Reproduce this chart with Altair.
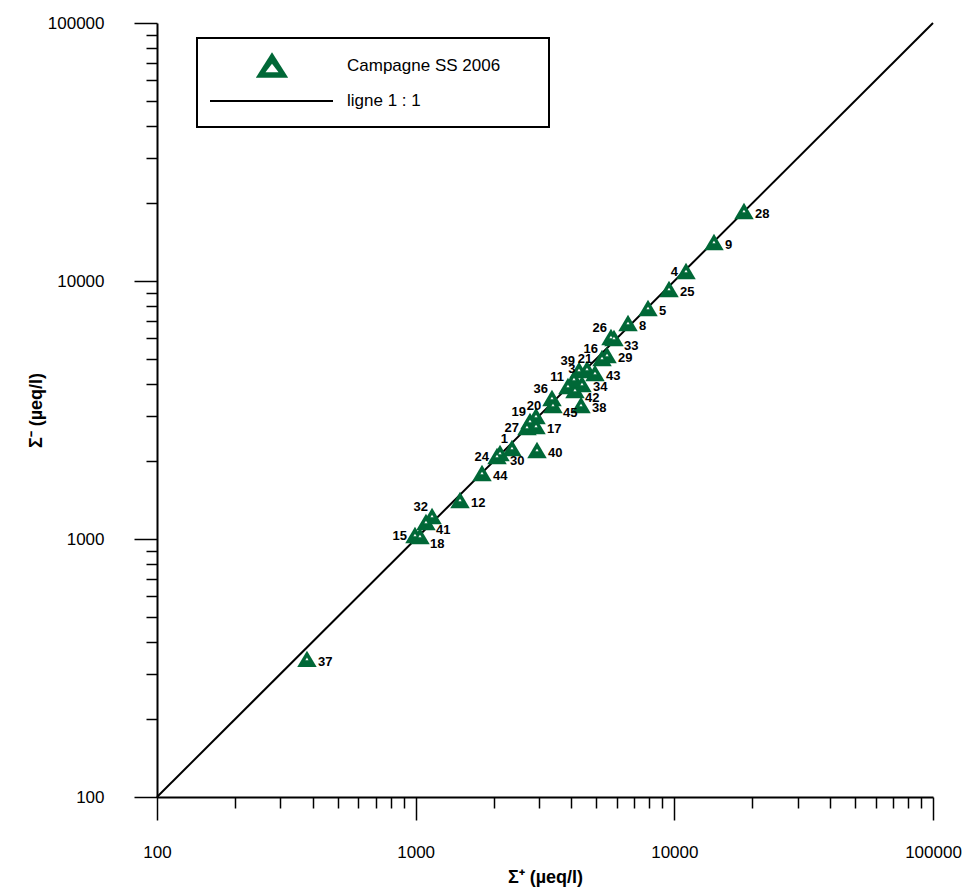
import altair as alt
import pandas as pd

# Sample identifiers and ionic balance sums (µeq/l)
sample_ids = ["37", "15", "18", "32", "41", "12", "44", "24", "30", "1",
              "40", "27", "17", "19", "20", "45", "36", "38", "42", "11",
              "34", "3", "39", "21", "43", "16", "29", "26", "33", "8",
              "5", "25", "4", "9", "28"]
sum_cations = [380, 994, 1039, 1157, 1096, 1484, 1805, 2063, 2119, 2357,
               2945, 2694, 2919, 2767, 2919, 3395, 3365, 4358, 4130, 3880,
               4395, 4093, 4280, 4596, 4935, 5253, 5492, 5690, 5844, 6621,
               7911, 9537, 11096, 14233, 18590]
sum_anions = [343, 1036, 1027, 1228, 1164, 1416, 1802, 2097, 2154, 2253,
              2213, 2718, 2741, 2866, 2998, 3307, 3519, 3307, 3780, 3918,
              3988, 4170, 4519, 4560, 4399, 5030, 5166, 6066, 6013, 6874,
              7857, 9312, 10934, 14165, 18675]

# 1:1 reference line end points
line_x = [100, 100000]
line_y = [100, 100000]

# where each sample label sits around its marker
label_side = {
    "r": ["37", "12", "44", "40", "17", "34", "38", "43", "29", "8", "5", "25", "9", "28"],
    "rb": ["18", "41", "30", "33", "45", "42"],
    "l": ["15", "24", "27", "4"],
    "ul": ["32", "1", "19", "11", "36", "26", "16", "39"],
    "u": ["3", "20", "21"],
}
side_style = {
    "r": dict(align="left", dx=11, dy=3),
    "rb": dict(align="left", dx=10, dy=8),
    "l": dict(align="right", dx=-8, dy=1),
    "ul": dict(align="right", dx=-4, dy=-9),
    "u": dict(align="center", dx=-2, dy=-10),
}

GREEN = "#006837"
FONT = "Liberation Sans"

side_of = {sid: s for s, ids in label_side.items() for sid in ids}
df = pd.DataFrame({"id": sample_ids, "cat": sum_cations, "an": sum_anions})
df["side"] = df["id"].map(side_of)
line_df = pd.DataFrame({"x": line_x, "y": line_y})

tick_vals = [m * 10 ** e for e in range(2, 5) for m in range(1, 10)] + [100000]
is_major = "abs(log(datum.value)/LN10 - round(log(datum.value)/LN10)) < 1e-6"
label_expr = f"{is_major} ? format(datum.value, 'd') : ''"


def make_axis(title, title_pad, label_pad, **kw):
    return alt.Axis(
        values=tick_vals, labelExpr=label_expr, grid=False,
        tickSize={"condition": {"test": is_major, "value": 23}, "value": 11},
        tickWidth=1.5, tickColor="black", domainColor="black", domainWidth=2,
        labelFont=FONT, labelFontSize=17, labelColor="black",
        labelPadding=label_pad, labelFlush=False, labelOverlap=False,
        title=title, titleFont=FONT, titleFontSize=18, titleFontWeight="bold",
        titleColor="black", titlePadding=title_pad, **kw)


xscale = alt.Scale(type="log", domain=[100, 100000], nice=False)
yscale = alt.Scale(type="log", domain=[100, 100000], nice=False)
x_axis = make_axis("Σ⁺ (µeq/l)", 8, 24)
y_axis = make_axis("Σ⁻ (µeq/l)", 2, 30)

tri = "M0,-0.84L1,0.84L-1,0.84Z"

one_to_one = alt.Chart(line_df).mark_line(color="black", strokeWidth=2).encode(
    x=alt.X("x:Q", scale=xscale, axis=x_axis),
    y=alt.Y("y:Q", scale=yscale, axis=y_axis),
)

base = alt.Chart(df).encode(
    x=alt.X("cat:Q", scale=xscale),
    y=alt.Y("an:Q", scale=yscale),
)
markers = base.mark_point(shape=tri, filled=True, size=380, color=GREEN, opacity=1)
centres = base.mark_point(shape=tri, filled=True, size=10, color="white", opacity=1)

labels = [
    base.transform_filter(alt.datum.side == s).mark_text(
        font=FONT, fontSize=13, fontWeight="bold", color="black",
        baseline="middle", **st).encode(text="id:N")
    for s, st in side_style.items()
]

# legend box
leg = alt.Chart(pd.DataFrame({"k": [0]}))
leg_box = leg.mark_rect(fill="white", stroke="black", strokeWidth=2).encode(
    x=alt.value(40), x2=alt.value(392), y=alt.value(15), y2=alt.value(104))
leg_tri = leg.mark_point(shape="M0,-0.78L1,0.78L-1,0.78Z", filled=True, size=1050,
                         color=GREEN, opacity=1).encode(x=alt.value(115), y=alt.value(42))
leg_tri_in = leg.mark_point(shape="M0,-0.67L1,0.67L-1,0.67Z", filled=True, size=170,
                            color="white", opacity=1).encode(x=alt.value(115), y=alt.value(45))
leg_line = leg.mark_rule(color="black", strokeWidth=2).encode(
    x=alt.value(53), x2=alt.value(176), y=alt.value(78))
leg_t1 = leg.mark_text(font=FONT, fontSize=17, align="left", baseline="middle",
                       color="black", text="Campagne SS 2006").encode(
    x=alt.value(190), y=alt.value(43))
leg_t2 = leg.mark_text(font=FONT, fontSize=17, align="left", baseline="middle",
                       color="black", text="ligne 1 : 1").encode(
    x=alt.value(190), y=alt.value(78))

chart = alt.layer(
    one_to_one, markers, centres, *labels,
    leg_box, leg_tri, leg_tri_in, leg_line, leg_t1, leg_t2,
).properties(
    width=776, height=774,
    autosize=alt.AutoSizeParams(type="none"),
    padding={"left": 157, "top": 23, "right": 40, "bottom": 93},
    background="white",
).configure_view(stroke=None)

chart.save("out.html", embed_options={"renderer": "svg", "actions": False})
